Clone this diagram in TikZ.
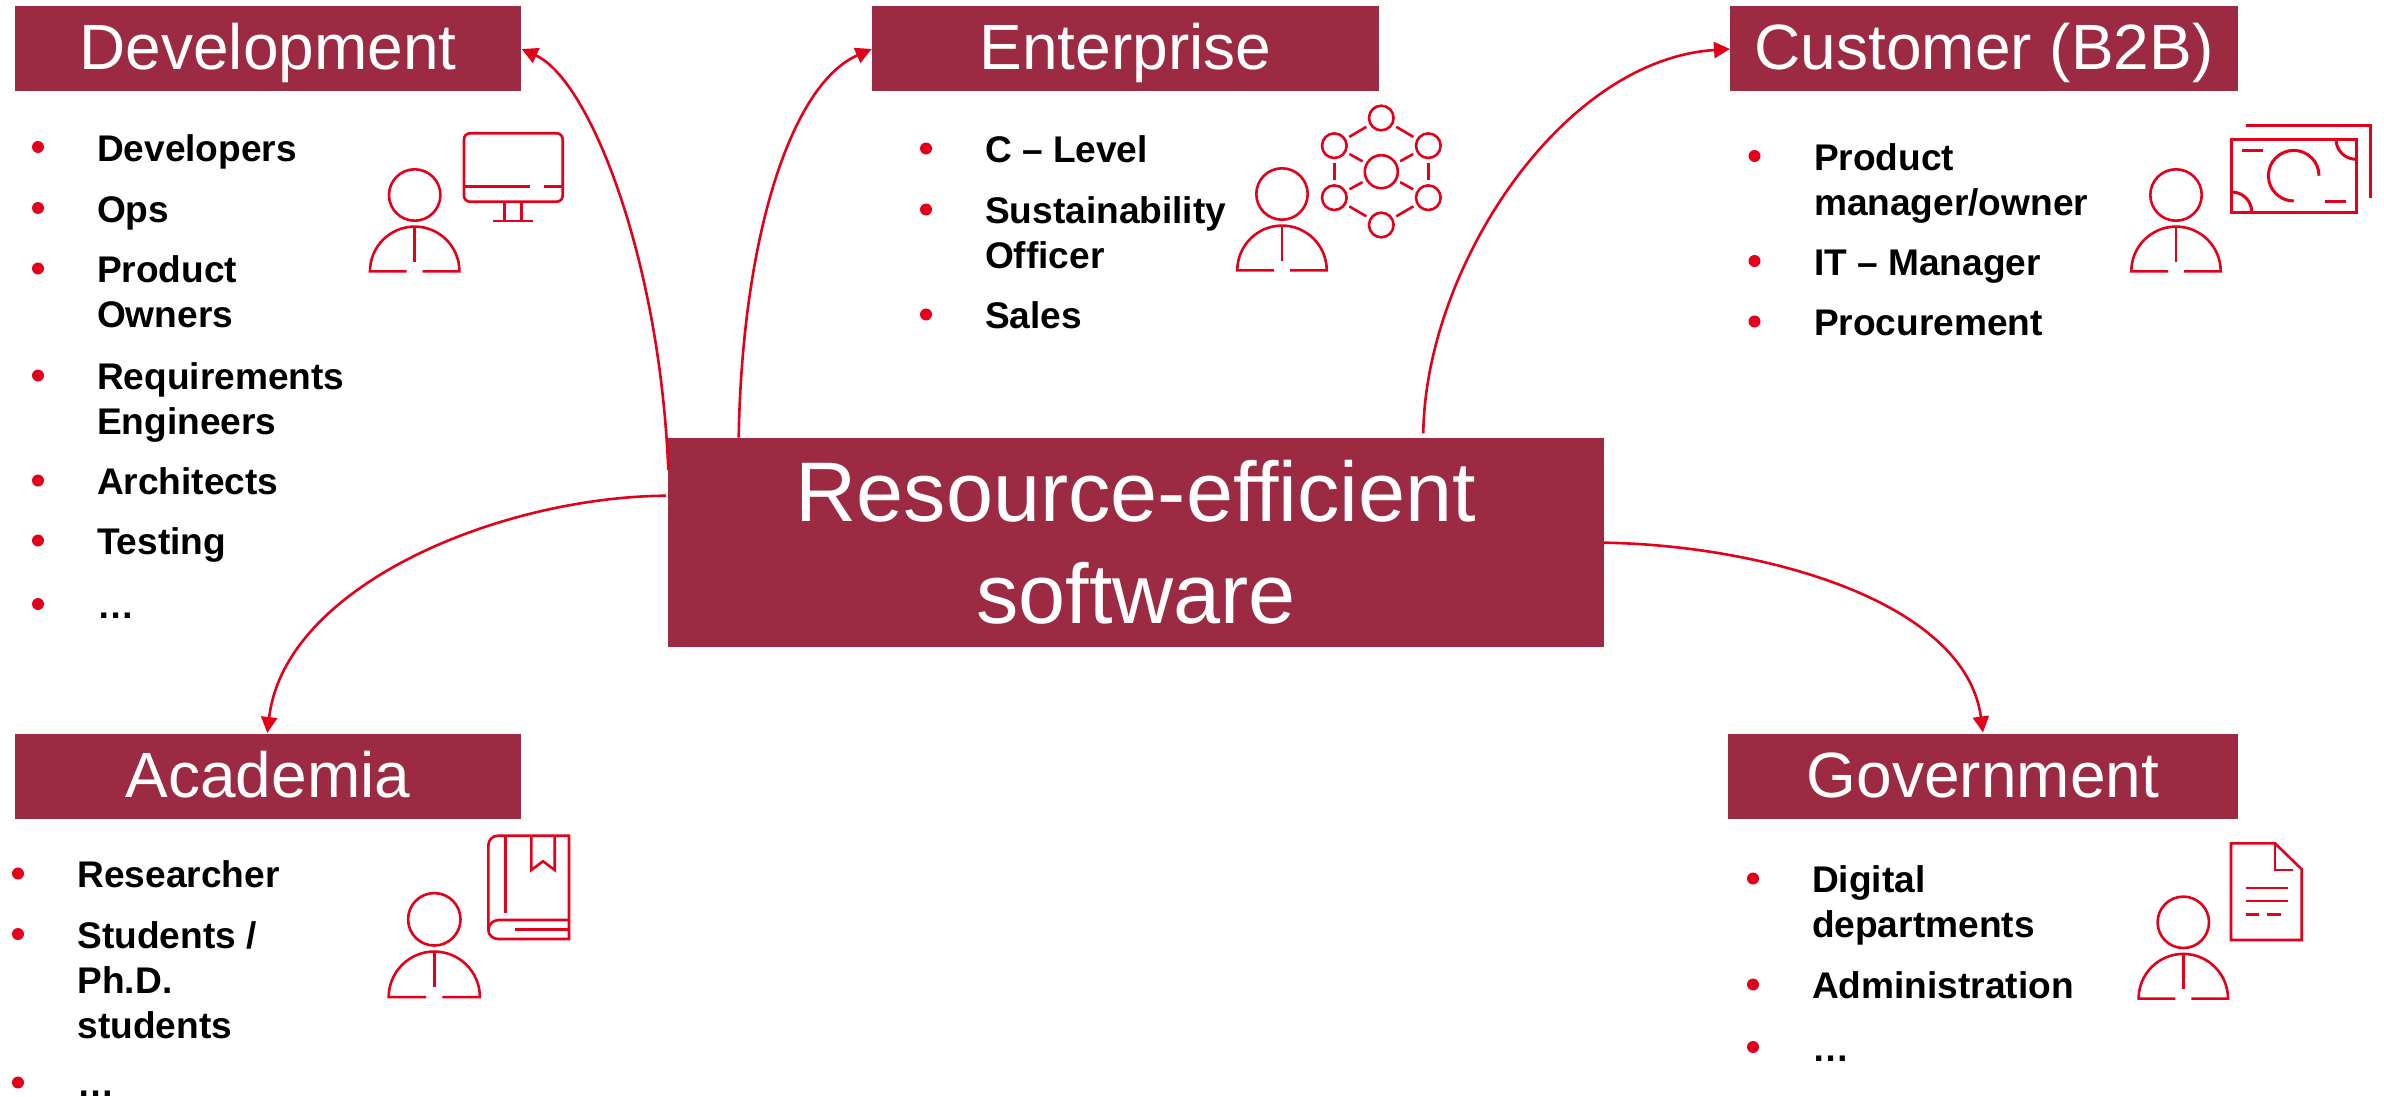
\documentclass[tikz,border=0pt]{standalone}
\usepackage{fontspec}
\setmainfont{Liberation Sans}
\usetikzlibrary{arrows.meta}
\definecolor{wine}{HTML}{9B2A42}
\definecolor{signal}{HTML}{E2001A}
\tikzset{
  x=1pt,y=-1pt,
  headbox/.style={fill=wine,text=white,inner sep=0pt,outer sep=0pt,minimum height=85pt,font=\fontsize{64}{64}\selectfont,text height=55pt,text depth=13pt},
  hubbox/.style={fill=wine,text=white,inner sep=0pt,outer sep=0pt,minimum width=936pt,minimum height=209pt,align=center,font=\fontsize{84.6}{102}\selectfont},
  itemtext/.style={inner sep=0pt,outer sep=0pt,anchor=north west,align=left,font=\fontsize{37.1}{45.2}\selectfont\bfseries},
  bulletdot/.style={circle,fill=signal,inner sep=0pt,outer sep=0pt,minimum size=12pt},
  link/.style={draw=signal,line width=2.6pt,-{Triangle[length=16pt,width=16pt]}},
  icon/.style={draw=signal,line width=2.6pt},
  netnode/.style={circle,draw=signal,line width=2.6pt,inner sep=0pt,outer sep=0pt,minimum size=24.6pt},
  netlink/.style={draw=signal,line width=2.6pt,shorten <=5pt,shorten >=5pt},
  pics/person/.style={code={
    \draw[icon] (0,0) circle[radius=25.7pt];
    \draw[icon] (-8,76.3) -- (-44.7,76.3) arc[start angle=180,end angle=0,radius=44.7pt] -- (8,76.3);
    \draw[icon] (0,31.7) -- (0,66.7);
  }}
}
\newcommand{\li}[5]{%
  \node[bulletdot] (#1b) at (#2,#4-14) {};
  \node[itemtext] (#1) at (#3,#4-34) {\rule{0pt}{34pt}#5};}
\begin{document}
\begin{tikzpicture}
\useasboundingbox (0,0) rectangle (2384,1097);
% boxes
\node[headbox,minimum width=506pt] (dev) at (268,48.5) {Development};
\node[headbox,minimum width=507pt] (ent) at (1125.5,48.5) {Enterprise};
\node[headbox,minimum width=508pt] (cus) at (1984,48.5) {Customer (B2B)};
\node[headbox,minimum width=506pt] (aca) at (268,776.5) {Academia};
\node[headbox,minimum width=510pt] (gov) at (1983,776.5) {Government};
\node[hubbox] (hub) at (1136,542.5) {Resource-efficient\\software};
% lists
\li{d1}{38}{97}{161}{Developers}
\li{d2}{38}{97}{222}{Ops}
\li{d3}{38}{97}{282.5}{Product\\Owners}
\li{d4}{38}{97}{389.5}{Requirements\\Engineers}
\li{d5}{38}{97}{494.5}{Architects}
\li{d6}{38}{97}{554.5}{Testing}
\li{d7}{38}{97}{618}{…}
\li{e1}{926}{985}{162.5}{C – Level}
\li{e2}{926}{985}{223.5}{Sustainability\\Officer}
\li{e3}{926}{985}{328.5}{Sales}
\li{c1}{1754.5}{1814}{170}{Product\\manager/owner}
\li{c2}{1754.5}{1814}{275}{IT – Manager}
\li{c3}{1754.5}{1814}{335.5}{Procurement}
\li{a1}{18}{77.5}{887.5}{Researcher}
\li{a2}{18}{77.5}{948}{Students /\\Ph.D.\\students}
\li{a3}{18}{77.5}{1096.5}{…}
\li{g1}{1753}{1812}{892.5}{Digital\\departments}
\li{g2}{1753}{1812}{998.5}{Administration}
\li{g3}{1753}{1812}{1061}{…}
% connectors
\coordinate (sd) at (668.3,470);
\coordinate (se) at (738.7,437.7);
\coordinate (sc) at (1423.3,433.3);
\coordinate (sa) at (666,495.7);
\coordinate (sg) at (1604,542.7);
\coordinate (td) at (521.7,49);
\coordinate (te) at (871.7,49);
\coordinate (tc) at (1730,49);
\coordinate (ta) at (267.3,733);
\coordinate (tg) at (1983,732.5);
\draw[link] (sd) .. controls (660,260) and (590,80) .. (td);
\draw[link] (se) .. controls (742,240) and (790,85) .. (te);
\draw[link] (sc) .. controls (1425,270) and (1560,60) .. (tc);
\draw[link] (sa) .. controls (500,497) and (285,585) .. (ta);
\draw[link] (sg) .. controls (1760,545) and (1965,600) .. (tg);
% persons
\pic at (414.7,195) {person};
\pic at (1282,194) {person};
\pic at (2176,195) {person};
\pic[scale=1.02] at (434.3,919.3) {person};
\pic at (2183.3,922.3) {person};
% monitor
\draw[icon,rounded corners=6pt] (464,133.3) rectangle (562.7,201.7);
\draw[icon] (464,186.7) -- (530,186.7) (544,186.7) -- (562.7,186.7);
\draw[icon] (504.7,201.7) -- (504.7,221) (521.7,201.7) -- (521.7,221) (493.3,221) -- (532.7,221);
% network
\node[netnode] (n1) at (1381.3,118) {};
\node[netnode] (n2) at (1428.3,145.7) {};
\node[netnode] (n3) at (1428.3,197.7) {};
\node[netnode] (n4) at (1381.3,225) {};
\node[netnode] (n5) at (1334.3,197.7) {};
\node[netnode] (n6) at (1334.3,145.7) {};
\node[netnode,minimum size=33pt] (n0) at (1381.3,171.7) {};
\foreach \a/\b in {n1/n2,n2/n3,n3/n4,n4/n5,n5/n6,n6/n1,n0/n2,n0/n3,n0/n5,n0/n6}
  \draw[netlink] (\a) -- (\b);
% banknote
\draw[icon,line width=3pt] (2231.7,139.3) rectangle (2356,212);
\draw[icon,line width=3pt] (2246,125.7) -- (2370,125.7) -- (2370,198);
\draw[icon,line width=3pt] (2242.3,150) -- (2263,150) (2325,201.3) -- (2345.7,201.3);
\draw[icon,line width=3pt] (2336,139.3) arc[start angle=180,end angle=270,radius=20pt];
\draw[icon,line width=3pt] (2231.7,192) arc[start angle=90,end angle=0,radius=20pt];
\draw[icon,line width=3pt] (2319,175.7) arc[start angle=0,end angle=270,radius=25.3pt];
% book
\draw[icon] (569,835.7) -- (498.3,835.7) .. controls (492,835.7) and (488.3,840) .. (488.3,846) -- (488.3,930) .. controls (488.3,935) and (493,939) .. (498.3,939) -- (569,939) -- cycle;
\draw[icon] (569,920) -- (498.3,920) .. controls (493,920) and (488.3,925) .. (488.3,930);
\draw[icon] (515,929.3) -- (569,929.3);
\draw[icon] (505.7,835.7) -- (505.7,912.7);
\draw[icon] (531.3,835.7) -- (531.3,870) -- (543,861.3) -- (554.7,870) -- (554.7,835.7);
% document
\draw[icon] (2231,843.3) -- (2275,843.3) -- (2301.7,869.3) -- (2301.7,940) -- (2231,940) -- cycle;
\draw[icon] (2275,843.3) -- (2275,870) -- (2293.3,870);
\draw[icon] (2246,888) -- (2288.3,888) (2246,901) -- (2288.3,901) (2246,914.7) -- (2258.7,914.7) (2266.7,914.7) -- (2281.3,914.7);
\end{tikzpicture}
\end{document}
